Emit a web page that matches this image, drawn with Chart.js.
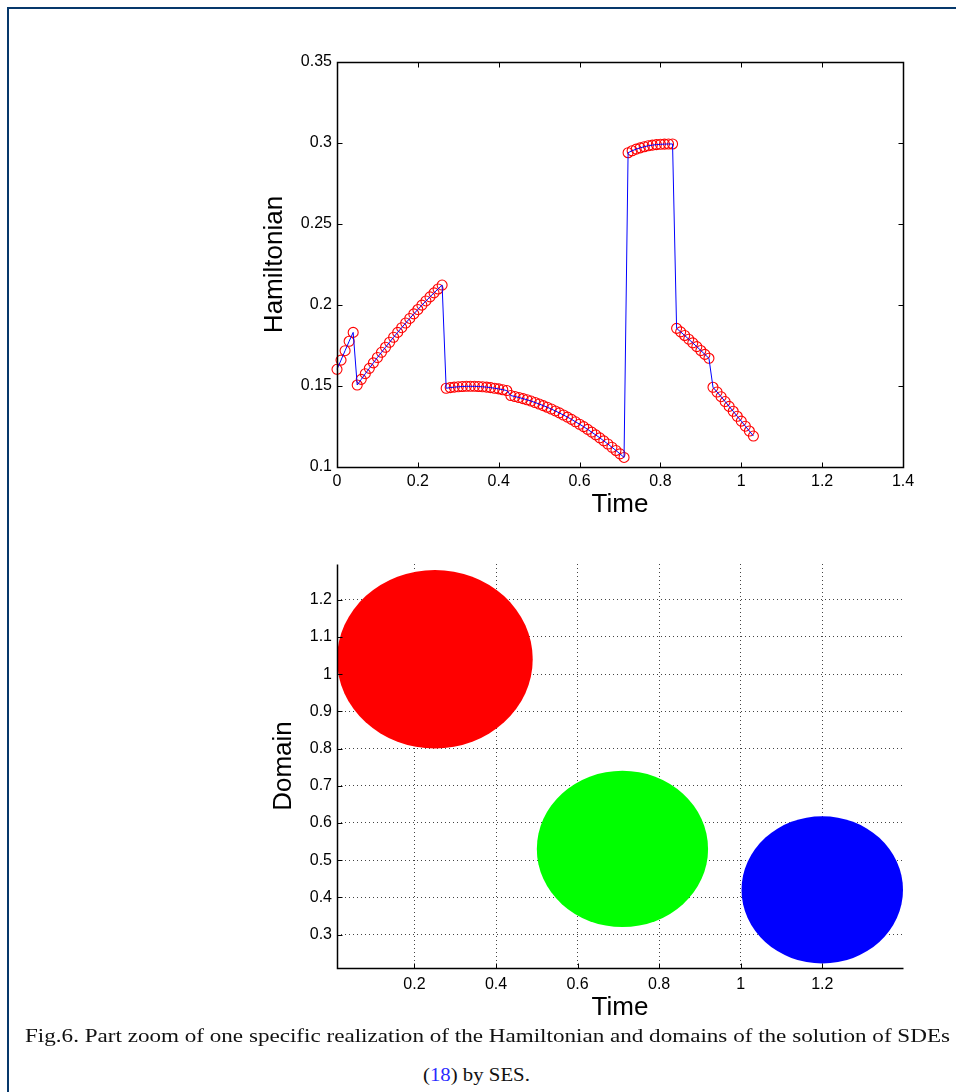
<!DOCTYPE html>
<html>
<head>
<meta charset="utf-8">
<title>Hamiltonian and domains</title>
<script src="https://cdn.jsdelivr.net/npm/chart.js@4.4.1/dist/chart.umd.min.js"></script>
<style>
  html, body { margin: 0; padding: 0; background: #fff; }
  #page { position: relative; width: 956px; height: 1092px; overflow: hidden; background: #fff; }
  #frame { position: absolute; left: 7px; top: 7px; right: -10px; bottom: -10px;
           border-left: 2px solid #06386b; border-top: 2px solid #06386b; }
  .plot { position: absolute; left: 240px; width: 700px; }
  #hamBox { top: 40px; height: 500px; }
  #domBox { top: 540px; height: 490px; }
  .caption { position: absolute; white-space: nowrap; line-height: 20px;
             font-family: "Liberation Serif", "DejaVu Serif", serif; font-size: 19px;
             color: #111; transform-origin: 0 0; }
  #cap1 { left: 25px; top: 1026px; }
  #cap2 { left: 429px; top: 1065px; }
  .ref { color: #2a2aff; }
</style>
</head>
<body>
<div id="page">
  <div id="frame"></div>
  <div class="plot" id="hamBox"><canvas id="hamChart"></canvas></div>
  <div class="plot" id="domBox"><canvas id="domChart"></canvas></div>
  <div class="caption" id="cap1">Fig.6. Part zoom of one specific realization of the Hamiltonian and domains of the solution of SDEs</div>
  <div class="caption" id="cap2">(<span class="ref">18</span>) by SES.</div>
</div>
<script>
// --- top panel: Hamiltonian against time ---
const hamTime = [
  0.00, 0.01, 0.02, 0.03, 0.04, 0.05, 0.06, 0.07, 0.08, 0.09,
  0.10, 0.11, 0.12, 0.13, 0.14, 0.15, 0.16, 0.17, 0.18, 0.19,
  0.20, 0.21, 0.22, 0.23, 0.24, 0.25, 0.26, 0.27, 0.28, 0.29,
  0.30, 0.31, 0.32, 0.33, 0.34, 0.35, 0.36, 0.37, 0.38, 0.39,
  0.40, 0.41, 0.42, 0.43, 0.44, 0.45, 0.46, 0.47, 0.48, 0.49,
  0.50, 0.51, 0.52, 0.53, 0.54, 0.55, 0.56, 0.57, 0.58, 0.59,
  0.60, 0.61, 0.62, 0.63, 0.64, 0.65, 0.66, 0.67, 0.68, 0.69,
  0.70, 0.71, 0.72, 0.73, 0.74, 0.75, 0.76, 0.77, 0.78, 0.79,
  0.80, 0.81, 0.82, 0.83, 0.84, 0.85, 0.86, 0.87, 0.88, 0.89,
  0.90, 0.91, 0.92, 0.93, 0.94, 0.95, 0.96, 0.97, 0.98, 0.99,
  1.00, 1.01, 1.02, 1.03
];
const hamValue = [
  0.1603, 0.1660, 0.1718, 0.1776, 0.1831,
  0.1506, 0.1541, 0.1576, 0.1609, 0.1643, 0.1676, 0.1708, 0.1739, 0.1770, 0.1801, 0.1831,
  0.1860, 0.1889, 0.1917, 0.1945, 0.1972, 0.1999, 0.2025, 0.2050, 0.2075, 0.2099, 0.2123,
  0.1486, 0.1490, 0.1493, 0.1495, 0.1497, 0.1498, 0.1498, 0.1498, 0.1497, 0.1495, 0.1493,
  0.1490, 0.1486, 0.1482, 0.1477, 0.1472,
  0.1441, 0.1435, 0.1429, 0.1422, 0.1415, 0.1407, 0.1398, 0.1389, 0.1379, 0.1369, 0.1358,
  0.1346, 0.1334, 0.1321, 0.1308, 0.1294, 0.1279, 0.1264, 0.1249, 0.1232, 0.1215, 0.1198,
  0.1180, 0.1161, 0.1142, 0.1122, 0.1102, 0.1081, 0.1059,
  0.2940, 0.2952, 0.2962, 0.2970, 0.2977, 0.2983, 0.2987, 0.2990, 0.2992, 0.2993, 0.2994, 0.2994,
  0.1856, 0.1834, 0.1812, 0.1789, 0.1766, 0.1743, 0.1719, 0.1695, 0.1671,
  0.1492, 0.1463, 0.1434, 0.1404, 0.1374, 0.1344, 0.1313, 0.1283, 0.1252, 0.1222, 0.1191
];
const hamTimeTicks = [0, 0.2, 0.4, 0.6, 0.8, 1, 1.2, 1.4];
const hamValueTicks = [0.1, 0.15, 0.2, 0.25, 0.3, 0.35];

// --- bottom panel: domains (centre time, centre value, radius) ---
const domainTime = [0.25, 0.71, 1.2];
const domainValue = [1.04, 0.53, 0.42];
const domainRadius = [0.24, 0.21, 0.198];
const domTimeTicks = [0.2, 0.4, 0.6, 0.8, 1, 1.2];
const domValueTicks = [0.3, 0.4, 0.5, 0.6, 0.7, 0.8, 0.9, 1, 1.1, 1.2];

Chart.defaults.font.family = '"Liberation Sans", Arial, Helvetica, sans-serif';
Chart.defaults.color = "#000";

const fmt = v => String(parseFloat(Number(v).toFixed(2)));
const setTicks = list => scale => { scale.ticks = list.map(v => ({ value: v })); };
const crisp = v => Math.round(v) + 0.5;

// matlab-ish axes: axis lines plus inward tick marks
const matlabAxes = {
  id: "matlabAxes",
  afterDatasetsDraw(chart, args, opts) {
    const { ctx, chartArea: a, scales: { x, y } } = chart;
    const L = crisp(a.left), R = crisp(a.right), T = crisp(a.top), B = crisp(a.bottom);
    const len = opts.tickLength || 5;
    ctx.save();
    ctx.strokeStyle = "#000";
    ctx.lineWidth = 1;
    ctx.beginPath();
    x.ticks.forEach(t => {
      const px = crisp(x.getPixelForValue(t.value));
      ctx.moveTo(px, B); ctx.lineTo(px, B - len);
      if (opts.box) { ctx.moveTo(px, T); ctx.lineTo(px, T + len); }
    });
    y.ticks.forEach(t => {
      const py = crisp(y.getPixelForValue(t.value));
      ctx.moveTo(L, py); ctx.lineTo(L + len, py);
      if (opts.box) { ctx.moveTo(R, py); ctx.lineTo(R - len, py); }
    });
    ctx.stroke();
    ctx.lineWidth = 1.5;
    ctx.beginPath();
    if (opts.box) {
      ctx.rect(L, T, R - L, B - T);
    } else {
      ctx.moveTo(L, T); ctx.lineTo(L, B); ctx.lineTo(R, B);
    }
    ctx.stroke();
    ctx.restore();
  }
};

// filled domains, sized in data units so they come out as ellipses like the original
const domainDisks = {
  id: "domainDisks",
  beforeDatasetsDraw(chart) {
    const { ctx, chartArea: a, scales: { x, y } } = chart;
    ctx.save();
    ctx.beginPath();
    ctx.rect(a.left, a.top, a.right - a.left, a.bottom - a.top);
    ctx.clip();
    chart.data.datasets.forEach(ds => {
      ds.data.forEach(p => {
        const cx = x.getPixelForValue(p.x), cy = y.getPixelForValue(p.y);
        const rx = Math.abs(x.getPixelForValue(p.x + p.r) - cx);
        const ry = Math.abs(y.getPixelForValue(p.y + p.r) - cy);
        ctx.fillStyle = ds.backgroundColor;
        ctx.beginPath();
        ctx.ellipse(cx, cy, rx, ry, 0, 0, Math.PI * 2);
        ctx.fill();
      });
    });
    ctx.restore();
  }
};

const hamPoints = hamTime.map((t, i) => ({ x: t, y: hamValue[i] }));

new Chart(document.getElementById("hamChart"), {
  type: "scatter",
  data: {
    datasets: [
      { label: "H", data: hamPoints, showLine: true, borderColor: "#0000ff", borderWidth: 1,
        pointRadius: 0, order: 0, clip: false },
      { label: "H samples", data: hamPoints, showLine: false, borderColor: "#ff0000",
        backgroundColor: "rgba(0,0,0,0)", pointRadius: 5, pointBorderWidth: 1.1, order: 1, clip: false },
    ],
  },
  options: {
    responsive: true,
    maintainAspectRatio: false,
    animation: false,
    layout: { padding: { top: 22, right: 37, left: 0, bottom: 0 } },
    plugins: { legend: { display: false }, tooltip: { enabled: false }, matlabAxes: { box: true, tickLength: 5 } },
    scales: {
      x: {
        type: "linear", min: 0, max: 1.4,
        afterBuildTicks: setTicks(hamTimeTicks),
        afterFit: s => { s.height = 73; },
        grid: { display: false, drawTicks: false },
        border: { display: false },
        ticks: { padding: 5, autoSkip: false, maxRotation: 0, font: { size: 16 }, callback: fmt },
        title: { display: true, text: "Time", font: { size: 26 }, padding: { top: 0, bottom: 20 } },
      },
      y: {
        type: "linear", min: 0.1, max: 0.35,
        afterBuildTicks: setTicks(hamValueTicks),
        afterFit: s => { s.width = 97; },
        grid: { display: false, drawTicks: false },
        border: { display: false },
        ticks: { padding: 5, autoSkip: false, font: { size: 16 }, callback: fmt },
        title: { display: true, text: "Hamiltonian", font: { size: 26 }, padding: { top: 19, bottom: 0 } },
      },
    },
  },
  plugins: [matlabAxes],
});

const domColors = ["#ff0000", "#00ff00", "#0000ff"];
new Chart(document.getElementById("domChart"), {
  type: "scatter",
  data: {
    datasets: domainTime.map((t, i) => ({
      label: "domain " + (i + 1),
      data: [{ x: t, y: domainValue[i], r: domainRadius[i] }],
      backgroundColor: domColors[i],
      pointRadius: 0,
    })),
  },
  options: {
    responsive: true,
    maintainAspectRatio: false,
    animation: false,
    layout: { padding: { top: 24, right: 37, left: 0, bottom: 0 } },
    plugins: { legend: { display: false }, tooltip: { enabled: false }, matlabAxes: { box: false, tickLength: 5 } },
    scales: {
      x: {
        type: "linear", min: 0.01, max: 1.398,
        afterBuildTicks: setTicks(domTimeTicks),
        afterFit: s => { s.height = 62; },
        grid: { color: "#444", lineWidth: 1, drawTicks: false },
        border: { display: false, dash: [1, 3] },
        ticks: { padding: 7, autoSkip: false, maxRotation: 0, font: { size: 16 }, callback: fmt },
        title: { display: true, text: "Time", font: { size: 26 }, padding: { top: 0, bottom: 7 } },
      },
      y: {
        type: "linear", min: 0.21, max: 1.296,
        afterBuildTicks: setTicks(domValueTicks),
        afterFit: s => { s.width = 97; },
        grid: { color: "#444", lineWidth: 1, drawTicks: false },
        border: { display: false, dash: [1, 3] },
        ticks: { padding: 5, autoSkip: false, font: { size: 16 }, callback: fmt },
        title: { display: true, text: "Domain", font: { size: 26 }, padding: { top: 28, bottom: 0 } },
      },
    },
  },
  plugins: [domainDisks, matlabAxes],
});

// stretch the caption to the width it has in the paper
const cap1 = document.getElementById("cap1");
const cap2 = document.getElementById("cap2");
const k = 925 / cap1.getBoundingClientRect().width;
cap1.style.transform = `scaleX(${k})`;
cap2.style.transform = `scaleX(${k * 0.9})`;
const w2 = cap2.getBoundingClientRect().width;
cap2.style.left = (476 - w2 / 2) + "px";
</script>
</body>
</html>
